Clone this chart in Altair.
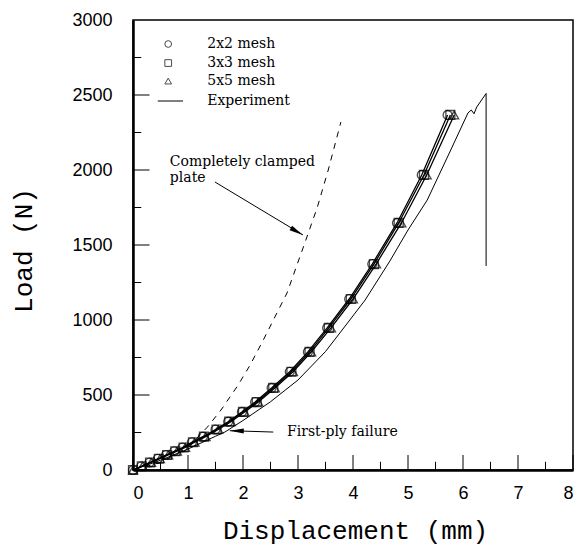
import altair as alt
import pandas as pd

# ---------------- data ----------------
mesh_load = [0, 25, 50, 75, 100, 125, 150, 185, 222, 270, 322, 387, 453, 547, 655, 787, 947, 1140, 1373, 1647, 1967, 2367]
mesh_2x2_disp = [0, 0.15, 0.30, 0.45, 0.60, 0.75, 0.90, 1.07, 1.27, 1.50, 1.73, 1.98, 2.22, 2.52, 2.85, 3.18, 3.53, 3.93, 4.35, 4.80, 5.25, 5.72]
mesh_3x3_disp = [0, 0.16, 0.31, 0.47, 0.62, 0.77, 0.92, 1.09, 1.29, 1.52, 1.75, 2.00, 2.25, 2.55, 2.88, 3.21, 3.56, 3.96, 4.38, 4.83, 5.29, 5.77]
mesh_5x5_disp = [0, 0.17, 0.33, 0.49, 0.64, 0.80, 0.95, 1.12, 1.32, 1.55, 1.78, 2.03, 2.28, 2.58, 2.91, 3.24, 3.60, 4.00, 4.42, 4.88, 5.34, 5.84]

exp_disp = [0, 0.5, 1.0, 1.5, 1.67, 2.0, 2.5, 3.0, 3.5, 3.76, 4.22, 4.67, 5.0, 5.35, 5.76, 6.09, 6.15, 6.2, 6.25, 6.42, 6.42]
exp_load = [0, 65, 140, 225, 253, 330, 455, 600, 790, 913, 1133, 1393, 1600, 1800, 2120, 2380, 2400, 2375, 2420, 2510, 1360]

clamp_disp = [0, 0.5, 1.0, 1.35, 1.6, 1.9, 2.13, 2.36, 2.8, 3.13, 3.35, 3.55, 3.78]
clamp_load = [0, 50, 150, 285, 400, 560, 700, 860, 1180, 1520, 1750, 2000, 2320]

x_major = [0, 1, 2, 3, 4, 5, 6, 7, 8]
x_minor = [0.5, 1.5, 2.5, 3.5, 4.5, 5.5, 6.5, 7.5]
y_labels = [0, 500, 1000, 1500, 2000, 2500, 3000]
y_major = [500, 1000, 1500, 2000, 2500]
y_minor = [250, 750, 1250, 1750, 2250, 2750]

legend_labels = ["2x2 mesh", "3x3 mesh", "5x5 mesh", "Experiment"]
legend_shapes = ["circle", "square", "triangle-up"]
legend_load = [2840, 2713, 2593, 2460]

ann_text = ["Completely clamped", "plate", "First-ply failure"]
ann_d = [0.67, 0.67, 2.8]
ann_L = [2053, 1947, 253]

arrow_from_d = [1.49, 2.55]
arrow_from_L = [1920, 253]
arrow_to_d = [3.09, 1.76]
arrow_to_L = [1567, 262]

W, H = 440, 450
TITLE_FONT = "Liberation Mono"
LABEL_FONT = "Liberation Sans"
TEXT_FONT = "DejaVu Serif"

xs = alt.Scale(domain=[0, 8], nice=False)
ys = alt.Scale(domain=[0, 3000], nice=False)

# ---------------- frames ----------------
def mesh_df(disp, name):
    return pd.DataFrame({"d": disp, "L": mesh_load, "s": name, "o": range(len(disp))})

mesh = pd.concat([mesh_df(mesh_2x2_disp, "2x2"), mesh_df(mesh_3x3_disp, "3x3"), mesh_df(mesh_5x5_disp, "5x5")])
exp_df = pd.DataFrame({"d": exp_disp, "L": exp_load, "o": range(len(exp_disp))})
clamp_df = pd.DataFrame({"d": clamp_disp, "L": clamp_load, "o": range(len(clamp_disp))})

X = alt.X("d:Q", scale=xs, axis=alt.Axis(
    title="Displacement (mm)", values=x_major, format="d", ticks=False, grid=False,
    domain=True, domainColor="black", domainWidth=2.5,
    labelFont=LABEL_FONT, labelFontSize=18, labelColor="black", labelPadding=14,
    titleFont=TITLE_FONT, titleFontSize=26, titleFontWeight="normal", titleColor="black",
    titleX=W / 2 + 2, titleY=60, titleAlign="center", titleBaseline="middle"))
Y = alt.Y("L:Q", scale=ys, axis=alt.Axis(
    title="Load (N)", values=y_labels, format="d", ticks=False, grid=False,
    domain=True, domainColor="black", domainWidth=2.5,
    labelFont=LABEL_FONT, labelFontSize=18, labelColor="black", labelPadding=21,
    titleFont=TITLE_FONT, titleFontSize=26, titleFontWeight="normal", titleColor="black",
    titleX=-110, titleY=230, titleAngle=270, titleAlign="center", titleBaseline="middle"))

base_clamp = alt.Chart(clamp_df).mark_line(color="black", strokeWidth=1, strokeDash=[6, 6]).encode(
    x=X, y=Y, order="o:Q")
base_exp = alt.Chart(exp_df).mark_line(color="black", strokeWidth=1).encode(
    x=alt.X("d:Q", scale=xs), y=alt.Y("L:Q", scale=ys), order="o:Q")

mesh_lines = alt.Chart(mesh).mark_line(color="black", strokeWidth=1.3).encode(
    x=alt.X("d:Q", scale=xs), y=alt.Y("L:Q", scale=ys), detail="s:N", order="o:Q")
shape_scale = alt.Scale(domain=["2x2", "3x3", "5x5"], range=legend_shapes)
mesh_pts = alt.Chart(mesh).mark_point(color="black", filled=False, strokeWidth=1.3, size=80).encode(
    x=alt.X("d:Q", scale=xs), y=alt.Y("L:Q", scale=ys),
    shape=alt.Shape("s:N", scale=shape_scale, legend=None))

# ---------------- inward ticks ----------------
xt = pd.DataFrame({"d": x_major + x_minor, "L0": [0] * 17, "L1": [100] * 9 + [55] * 8})
x_ticks = alt.Chart(xt).mark_rule(color="black", strokeWidth=1).encode(
    x=alt.X("d:Q", scale=xs), y=alt.Y("L0:Q", scale=ys), y2="L1:Q")
yt = pd.DataFrame({"L": y_major + y_minor, "d0": [0] * 11, "d1": [0.3] * 5 + [0.15] * 6})
y_ticks = alt.Chart(yt).mark_rule(color="black", strokeWidth=1).encode(
    y=alt.Y("L:Q", scale=ys), x=alt.X("d0:Q", scale=xs), x2="d1:Q")

# ---------------- legend (inside plot) ----------------
leg_sym = pd.DataFrame({"d": [0.64] * 3, "L": legend_load[:3], "s": ["2x2", "3x3", "5x5"]})
leg_pts = alt.Chart(leg_sym).mark_point(color="black", filled=False, strokeWidth=1, size=45).encode(
    x=alt.X("d:Q", scale=xs), y=alt.Y("L:Q", scale=ys),
    shape=alt.Shape("s:N", scale=shape_scale, legend=None))
leg_line = alt.Chart(pd.DataFrame({"d": [0.45], "d2": [0.91], "L": [legend_load[3]]})).mark_rule(
    color="black", strokeWidth=1).encode(x=alt.X("d:Q", scale=xs), x2="d2:Q", y=alt.Y("L:Q", scale=ys))
leg_txt = alt.Chart(pd.DataFrame({"d": [1.35] * 4, "L": legend_load, "t": legend_labels})).mark_text(
    font=TEXT_FONT, fontSize=14, align="left", baseline="middle", color="black").encode(
    x=alt.X("d:Q", scale=xs), y=alt.Y("L:Q", scale=ys), text="t:N")

# ---------------- annotations ----------------
ann = alt.Chart(pd.DataFrame({"d": ann_d, "L": ann_L, "t": ann_text})).mark_text(
    font=TEXT_FONT, fontSize=14, align="left", baseline="middle", color="black").encode(
    x=alt.X("d:Q", scale=xs), y=alt.Y("L:Q", scale=ys), text="t:N")

arr_df = pd.DataFrame({"d": arrow_from_d, "L": arrow_from_L, "d2": arrow_to_d, "L2": arrow_to_L,
                       "a": [30, 181]})
arr_lines = alt.Chart(arr_df).mark_rule(color="black", strokeWidth=1).encode(
    x=alt.X("d:Q", scale=xs), y=alt.Y("L:Q", scale=ys), x2="d2:Q", y2="L2:Q")
arr_heads = alt.Chart(arr_df).mark_point(
    shape="M 0 0 L -2 -0.36 L -2 0.36 Z", filled=True, color="black", size=196, opacity=1).encode(
    x=alt.X("d2:Q", scale=xs), y=alt.Y("L2:Q", scale=ys), angle=alt.Angle("a:Q", scale=None))

chart = alt.layer(
    base_clamp, base_exp, mesh_lines, mesh_pts, x_ticks, y_ticks,
    leg_pts, leg_line, leg_txt, ann, arr_lines, arr_heads
).properties(
    width=W, height=H,
    padding={"left": 133, "top": 20, "right": 4, "bottom": 86},
    autosize=alt.AutoSizeParams(type="none"),
    background="white",
).configure_view(stroke="black", strokeWidth=1.5)

chart.save("out.html", embed_options={"renderer": "svg", "actions": False})
